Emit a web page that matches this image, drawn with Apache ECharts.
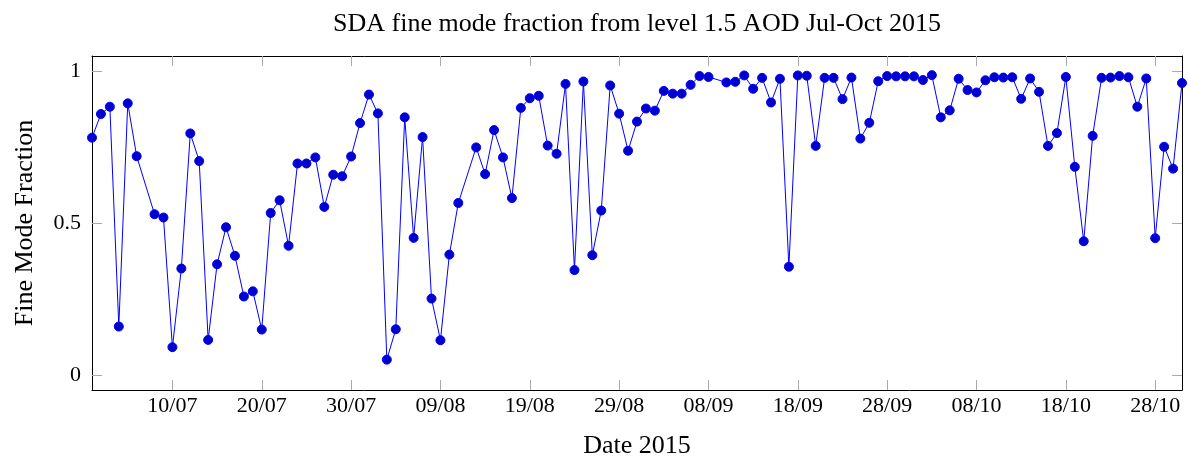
<!DOCTYPE html>
<html>
<head>
<meta charset="utf-8">
<title>SDA fine mode fraction</title>
<script src="https://cdn.jsdelivr.net/npm/echarts@6/dist/echarts.min.js"></script>
<style>
  html, body { margin: 0; padding: 0; background: #fff; }
  #main { width: 1189px; height: 457px; }
</style>
</head>
<body>
<div id="main"></div>
<script>
// first and last day of the plot (2015)
var startDay = '2015-07-01';
var endDay = '2015-10-31';

// fine mode fraction per day from 01/07, null = no measurement that day
var fmf = [
  0.781, 0.859, 0.883, 0.159, 0.894, 0.720, null, 0.529, 0.518, 0.091,
  0.350, 0.795, 0.704, 0.115, 0.364, 0.486, 0.392, 0.258, 0.275, 0.149,
  0.533, 0.575, 0.425, 0.696, 0.696, 0.716, 0.553, 0.659, 0.654, 0.719,
  0.829, 0.923, 0.861, 0.050, 0.150, 0.848, 0.451, 0.783, 0.251, 0.114,
  0.396, 0.566, null, 0.749, 0.661, 0.806, 0.716, 0.582, 0.879, 0.911,
  0.919, 0.755, 0.728, 0.958, 0.345, 0.966, 0.394, 0.541, 0.953, 0.860,
  0.738, 0.834, 0.877, 0.870, 0.935, 0.926, 0.926, 0.955, 0.984, 0.981,
  null, 0.963, 0.965, 0.986, 0.942, 0.978, 0.897, 0.975, 0.356, 0.986,
  0.985, 0.754, 0.978, 0.978, 0.908, 0.979, 0.778, 0.830, 0.967, 0.984,
  0.983, 0.983, 0.983, 0.971, 0.987, 0.848, 0.871, 0.975, 0.938, 0.930,
  0.970, 0.980, 0.979, 0.980, 0.909, 0.976, 0.932, 0.754, 0.796, 0.981,
  0.685, 0.440, 0.787, 0.978, 0.979, 0.984, 0.980, 0.883, 0.976, 0.450,
  0.751, 0.679, 0.961
];

// labelled ticks on the date axis
var xTicks = ['10/07', '20/07', '30/07', '09/08', '19/08', '29/08',
              '08/09', '18/09', '28/09', '08/10', '18/10', '28/10'];
var yTicks = [0, 0.5, 1];

// one category per day dd/mm
function pad(n) { return n < 10 ? '0' + n : '' + n; }
var days = [];
var d = new Date(startDay + 'T00:00:00Z');
var last = new Date(endDay + 'T00:00:00Z');
while (d <= last) {
  days.push(pad(d.getUTCDate()) + '/' + pad(d.getUTCMonth() + 1));
  d.setUTCDate(d.getUTCDate() + 1);
}

var font = 'Liberation Serif';
var isTick = function (i, v) { return xTicks.indexOf(days[i]) >= 0; };

var chart = echarts.init(document.getElementById('main'));

var frameX = {
  type: 'category',
  data: days,
  boundaryGap: false,
  axisLine: { show: true, onZero: false, lineStyle: { color: '#000', width: 1 } },
  axisTick: { show: true, inside: true, length: 10, interval: isTick,
              lineStyle: { color: '#aaa', width: 1 } },
  splitLine: { show: false }
};
var frameY = {
  type: 'value',
  min: -0.05,
  max: 1.05,
  axisLine: { show: true, onZero: false, lineStyle: { color: '#000', width: 1 } },
  axisTick: { show: true, inside: true, length: 10, customValues: yTicks,
              lineStyle: { color: '#aaa', width: 1 } },
  splitLine: { show: false }
};

chart.setOption({
  animation: false,
  backgroundColor: '#fff',
  title: {
    text: 'SDA fine mode fraction from level 1.5 AOD Jul-Oct 2015',
    left: 632,
    textAlign: 'center',
    top: 6,
    textStyle: { fontFamily: font, fontSize: 26, fontWeight: 'normal', color: '#000' }
  },
  grid: { left: 92, right: 7, top: 56, bottom: 67, containLabel: false, outerBoundsMode: 'none' },
  xAxis: [
    echarts.util.merge({
      position: 'bottom',
      name: 'Date 2015',
      nameLocation: 'middle',
      nameGap: 43,
      nameTextStyle: { fontFamily: font, fontSize: 26, color: '#000' },
      axisLabel: { show: true, interval: isTick, margin: 5,
                   fontFamily: font, fontSize: 22, color: '#000' }
    }, frameX, true),
    echarts.util.merge({
      position: 'top',
      axisLabel: { show: false }
    }, frameX, true)
  ],
  yAxis: [
    echarts.util.merge({
      position: 'left',
      name: 'Fine Mode Fraction',
      nameLocation: 'middle',
      nameGap: 54,
      nameTextStyle: { fontFamily: font, fontSize: 26, color: '#000' },
      axisLabel: { show: true, customValues: yTicks, margin: 11,
                   fontFamily: font, fontSize: 22, color: '#000' }
    }, frameY, true),
    echarts.util.merge({
      position: 'right',
      axisLabel: { show: false }
    }, frameY, true)
  ],
  series: [{
    type: 'line',
    data: fmf,
    connectNulls: true,
    symbol: 'circle',
    symbolSize: 9,
    showAllSymbol: true,
    clip: false,
    lineStyle: { color: '#0000ff', width: 1 },
    itemStyle: { color: '#0000cc', borderColor: '#0000ff', borderWidth: 1 }
  }]
});
</script>
</body>
</html>
